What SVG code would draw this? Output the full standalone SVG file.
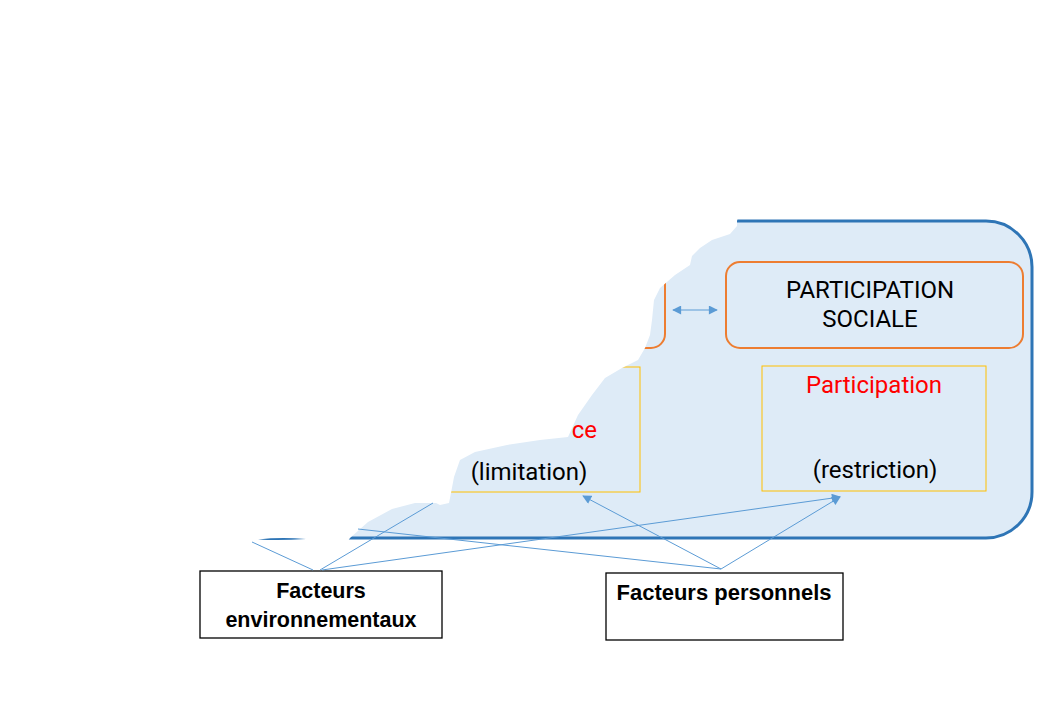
<svg xmlns="http://www.w3.org/2000/svg" width="1040" height="720" viewBox="0 0 1040 720">
<defs>
<style>
.lbl{font-family:Roboto,"Liberation Sans",sans-serif;font-size:24px;fill:#000;text-anchor:middle}
.red{fill:#FF0000}
.fac{font-family:"Liberation Sans",Arial,sans-serif;font-size:21.5px;font-weight:bold;fill:#000;text-anchor:middle}
.con{stroke:#5B9BD5;stroke-width:1;fill:none}
.ybox{fill:none;stroke:#FFC000;stroke-width:1}
.obox{fill:none;stroke:#ED7D31;stroke-width:2}
.wbox{fill:#FFFFFF;stroke:#000;stroke-width:1.3}
</style>
<marker id="ah" viewBox="0 0 10 10" refX="9" refY="5" markerWidth="10" markerHeight="9" markerUnits="userSpaceOnUse" orient="auto-start-reverse">
<path d="M0,0 L10,5 L0,10 Z" fill="#5B9BD5"/>
</marker>
</defs>
<rect width="1040" height="720" fill="#FFFFFF"/>
<g id="cadre">
<rect x="240" y="221" width="792" height="317" rx="46" ry="46" fill="#DEEBF7" stroke="#2E75B6" stroke-width="3"/>
</g>
<g id="activites">
<rect x="368" y="262" width="297" height="86" rx="14" ry="14" class="obox"/>
</g>
<g id="performance">
<rect x="416" y="367" width="224" height="125" class="ybox"/>
</g>
<g id="dechirure">
<path d="M200,190 L745,190 L737,221 L737,226 L730,234 L712,240 L700,248 L692,256 L690,265 L675,275 L660,288 L654,300 L652,320 L650,335 L645,348 L638,360 L622,368 L605,378 L592,395 L578,415 L568,437 L540,440 L507,445 L475,452 L460,460 L454,477 L451,493 L449,503 L440,505 L436,503 L415,503 L392,509 L368,522 L350,538 L348,541 L200,541 Z" fill="#FFFFFF"/>
<path d="M258,539.5 Q280,537 306,539 Q280,540.8 258,539.5 Z" fill="#2E75B6"/>
</g>
<g id="performance-texte">
<text x="597" y="438" class="lbl red" style="text-anchor:end">ce</text>
<text x="529" y="480" class="lbl">(limitation)</text>
</g>
<g id="participation-sociale">
<rect x="726" y="262" width="297" height="86" rx="14" ry="14" class="obox"/>
<text x="870" y="298" class="lbl">PARTICIPATION</text>
<text x="870" y="327" class="lbl">SOCIALE</text>
</g>
<g id="participation">
<rect x="762" y="366" width="224" height="125" class="ybox"/>
<text x="874" y="393" class="lbl red">Participation</text>
<text x="875" y="478" class="lbl">(restriction)</text>
</g>
<g id="facteurs-environnementaux">
<rect x="200" y="571" width="242" height="67" class="wbox"/>
<text x="321" y="598" class="fac">Facteurs</text>
<text x="321" y="627" class="fac">environnementaux</text>
</g>
<g id="facteurs-personnels">
<rect x="606" y="573" width="237" height="67" class="wbox"/>
<text x="724" y="600" class="fac" textLength="215" lengthAdjust="spacingAndGlyphs">Facteurs personnels</text>
</g>
<g id="connecteurs">
<line x1="673" y1="310" x2="717" y2="310" class="con" marker-start="url(#ah)" marker-end="url(#ah)"/>
<line x1="313" y1="570" x2="252" y2="542" class="con"/>
<line x1="320" y1="570" x2="433" y2="503" class="con"/>
<line x1="322" y1="570" x2="840" y2="497" class="con" marker-end="url(#ah)"/>
<line x1="721" y1="569" x2="583" y2="496" class="con" marker-end="url(#ah)"/>
<line x1="721" y1="569" x2="840" y2="497" class="con" marker-end="url(#ah)"/>
<line x1="721" y1="569" x2="358" y2="529" class="con"/>
</g>
</svg>
